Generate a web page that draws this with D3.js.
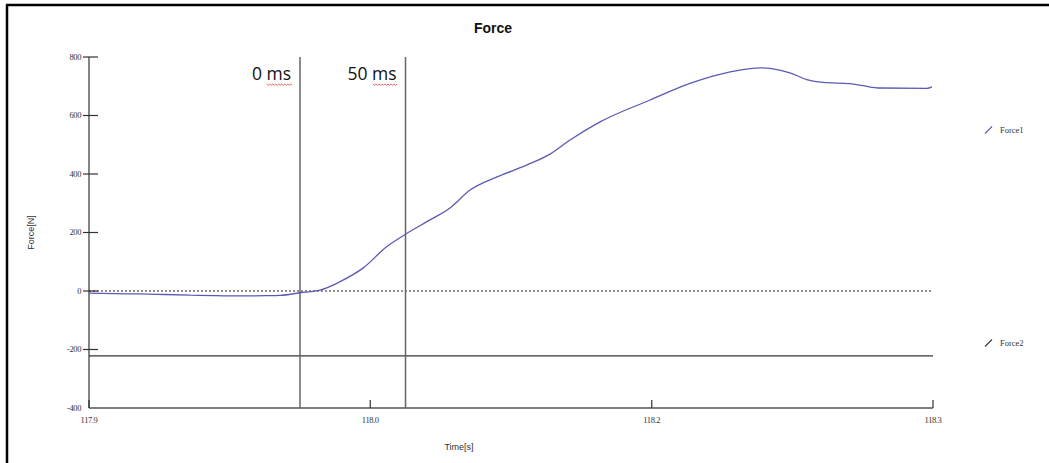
<!DOCTYPE html>
<html>
<head>
<meta charset="utf-8">
<script src="https://cdn.jsdelivr.net/npm/d3@7"></script>
<style>
  html, body { margin: 0; padding: 0; background: #fff; }
  svg { display: block; }
</style>
</head>
<body>
<svg id="chart" width="1049" height="463"></svg>
<script>
// Force1 samples: time in seconds, force in newtons
const timeS = [117.900, 117.912, 117.924, 117.936, 117.948, 117.960, 117.972, 117.984, 117.9905,
  118.000, 118.0095, 118.019, 118.030, 118.041, 118.050, 118.0616, 118.0711, 118.0806, 118.0934,
  118.1076, 118.1185, 118.128, 118.1422, 118.1659, 118.1848, 118.199, 118.2085, 118.218, 118.2227,
  118.2322, 118.2401, 118.2479, 118.2607, 118.2668, 118.2749, 118.2971, 118.2995];
const force1N = [-7, -9, -10, -12, -14, -16, -17, -16, -15,
  -6, 3, 32, 79, 151, 194, 243, 284, 345, 390,
  431, 468, 516, 578, 653, 710, 741, 755, 763, 761,
  746, 723, 713, 709, 702, 694, 693, 698];

// Force2 is a constant level
const force2N = -222;

// Event markers
const markerTimes = [118.0, 118.05];
const markerLabels = ["0 ms", "50 ms"];

// Axes
const xDomain = [117.9, 118.3];
const yDomain = [-400, 800];
const xTickValues = [117.9, 118.0333, 118.1667, 118.3];
const yTickValues = [-400, -200, 0, 200, 400, 600, 800];

const seriesNames = ["Force1", "Force2"];
const seriesColors = ["#5a5ab8", "#333333"];

const svg = d3.select("#chart");

// Page frame
svg.append("line").attr("x1", 7).attr("x2", 7).attr("y1", 5).attr("y2", 463)
  .attr("stroke", "#000").attr("stroke-width", 2.5);
svg.append("line").attr("x1", 6).attr("x2", 1049).attr("y1", 5).attr("y2", 5)
  .attr("stroke", "#000").attr("stroke-width", 2.5);

const x = d3.scaleLinear().domain(xDomain).range([89, 933]);
const y = d3.scaleLinear().domain(yDomain).range([408, 57]);

// Title
svg.append("text").attr("x", 493).attr("y", 33).attr("text-anchor", "middle")
  .attr("font-family", "Liberation Sans, Arial, sans-serif").attr("font-weight", "bold")
  .attr("font-size", 14).attr("fill", "#111").text("Force");

// Y axis
const yAxis = svg.append("g");
yAxis.append("line").attr("x1", x(xDomain[0])).attr("x2", x(xDomain[0]))
  .attr("y1", y(yDomain[1])).attr("y2", y(yDomain[0])).attr("stroke", "#333").attr("stroke-width", 1.2);
yAxis.selectAll("line.tick").data(yTickValues.filter(v => v !== yDomain[0])).join("line")
  .attr("class", "tick")
  .attr("x1", x(xDomain[0]) - 6).attr("x2", x(xDomain[0]) + 9)
  .attr("y1", d => y(d)).attr("y2", d => y(d))
  .attr("stroke", "#333").attr("stroke-width", 1.2);
yAxis.selectAll("text").data(yTickValues).join("text")
  .attr("x", x(xDomain[0]) - 8).attr("y", d => y(d)).attr("dy", "0.35em")
  .attr("text-anchor", "end").attr("font-family", "Liberation Serif, Times New Roman, serif")
  .attr("font-size", 8.5).attr("fill", "#333").attr("letter-spacing", -0.4)
  .text(d => d);

svg.append("text")
  .attr("transform", `translate(34,${(y(yDomain[0]) + y(yDomain[1])) / 2}) rotate(-90)`)
  .attr("text-anchor", "middle").attr("font-family", "Liberation Sans, Arial, sans-serif")
  .attr("font-size", 9).attr("fill", "#333").text("Force[N]");

// X axis
const xAxis = svg.append("g");
xAxis.append("line").attr("x1", x(xDomain[0])).attr("x2", x(xDomain[1]))
  .attr("y1", y(yDomain[0])).attr("y2", y(yDomain[0])).attr("stroke", "#555").attr("stroke-width", 1.4);
xAxis.selectAll("line.tick").data(xTickValues).join("line")
  .attr("class", "tick")
  .attr("x1", d => x(d)).attr("x2", d => x(d))
  .attr("y1", y(yDomain[0]) - 8).attr("y2", y(yDomain[0]))
  .attr("stroke", "#333").attr("stroke-width", 1.2);
xAxis.selectAll("text").data(xTickValues).join("text")
  .attr("x", d => x(d)).attr("y", y(yDomain[0]) + 15)
  .attr("text-anchor", "middle").attr("font-family", "Liberation Serif, Times New Roman, serif")
  .attr("font-size", 8.5).attr("fill", "#333").attr("letter-spacing", -0.4)
  .text(d => d3.format(".1f")(d));

svg.append("text").attr("x", 459).attr("y", 450).attr("text-anchor", "middle")
  .attr("font-family", "Liberation Sans, Arial, sans-serif").attr("font-size", 9)
  .attr("fill", "#333").text("Time[s]");

// Zero reference line
svg.append("line").attr("x1", x(xDomain[0])).attr("x2", x(xDomain[1]))
  .attr("y1", y(0)).attr("y2", y(0))
  .attr("stroke", "#222").attr("stroke-width", 1.1).attr("stroke-dasharray", "2,2");

// Force2 level
svg.append("line").attr("x1", x(xDomain[0])).attr("x2", x(xDomain[1]))
  .attr("y1", y(force2N)).attr("y2", y(force2N))
  .attr("stroke", seriesColors[1]).attr("stroke-width", 1.2);

// Event markers
markerTimes.forEach((t, i) => {
  svg.append("line").attr("x1", x(t)).attr("x2", x(t))
    .attr("y1", y(yDomain[1])).attr("y2", y(yDomain[0]))
    .attr("stroke", "#666").attr("stroke-width", 1.5);
  const endX = x(t) - 9;
  const label = svg.append("text").attr("x", endX).attr("y", 80)
    .attr("text-anchor", "end").attr("font-family", "Open Sans, sans-serif")
    .attr("font-size", 17.5).attr("fill", "#111").text(markerLabels[i]);
  // spell-check squiggle under the unit
  const w = label.node().getComputedTextLength();
  const msW = w * (i === 0 ? 0.62 : 0.48);
  const startX = endX - msW;
  const pts = [];
  for (let k = 0; k <= Math.ceil(msW / 1.5); k++) {
    pts.push([startX + k * 1.5, 84 + (k % 2 === 0 ? 0 : 1.3)]);
  }
  svg.append("path").attr("d", d3.line()(pts)).attr("fill", "none")
    .attr("stroke", "#e04040").attr("stroke-width", 0.8);
});

// Force1 curve
const pts1 = timeS.map((t, i) => [t, force1N[i]]);
svg.append("path").datum(pts1)
  .attr("d", d3.line().x(d => x(d[0])).y(d => y(d[1])).curve(d3.curveMonotoneX))
  .attr("fill", "none").attr("stroke", seriesColors[0]).attr("stroke-width", 1.3);

// Legend
const legendY = [130, 343];
seriesNames.forEach((name, i) => {
  svg.append("line").attr("x1", 985).attr("y1", legendY[i] + 3.5)
    .attr("x2", 992).attr("y2", legendY[i] - 3.5)
    .attr("stroke", seriesColors[i]).attr("stroke-width", 1.1);
  svg.append("text").attr("x", 1000).attr("y", legendY[i]).attr("dy", "0.35em")
    .attr("font-family", "Liberation Serif, Times New Roman, serif")
    .attr("font-size", 8.5).attr("fill", "#333").text(name);
});
</script>
</body>
</html>
